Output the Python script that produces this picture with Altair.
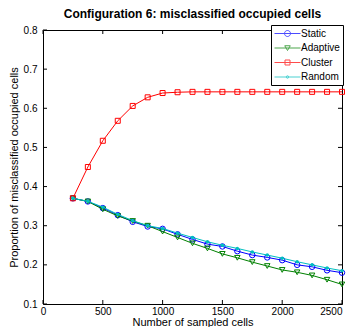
import altair as alt
import pandas as pd

x_vals = [250, 375, 500, 625, 750, 875, 1000, 1125, 1250, 1375, 1500,
          1625, 1750, 1875, 2000, 2125, 2250, 2375, 2500]
static = [0.370, 0.362, 0.345, 0.327, 0.310, 0.298, 0.292, 0.278, 0.265, 0.253,
          0.247, 0.235, 0.225, 0.219, 0.212, 0.200, 0.195, 0.186, 0.180]
adaptive = [0.370, 0.362, 0.342, 0.325, 0.312, 0.300, 0.285, 0.270, 0.255, 0.242,
            0.228, 0.218, 0.207, 0.197, 0.187, 0.181, 0.173, 0.162, 0.150]
cluster = [0.370, 0.450, 0.517, 0.568, 0.606, 0.628, 0.639, 0.641, 0.642, 0.642,
           0.642, 0.642, 0.642, 0.642, 0.642, 0.642, 0.642, 0.642, 0.642]
random_ = [0.370, 0.3625, 0.3475, 0.329, 0.313, 0.300, 0.293, 0.281, 0.270, 0.259,
           0.250, 0.242, 0.233, 0.225, 0.217, 0.208, 0.200, 0.192, 0.185]

series_names = ["Static", "Adaptive", "Cluster", "Random"]
series_values = [static, adaptive, cluster, random_]
colors = ["#0000ff", "#008000", "#ff0000", "#00bfbf"]
marker_shapes = ["circle", "triangle-down", "square", "circle"]
marker_sizes = [30, 30, 25, 12]
marker_filled = [False, False, False, True]
legend_paths = [
    "M-1,0L4.2,0M1.0,0A0.6,0.6,0,1,0,2.2,0A0.6,0.6,0,1,0,1.0,0",
    "M-1,0L4.2,0M1.05,-0.45L2.15,-0.45L1.6,0.5Z",
    "M-1,0L4.2,0M1.1,-0.5L2.1,-0.5L2.1,0.5L1.1,0.5Z",
    "M-1,0L4.2,0M1.35,0A0.25,0.25,0,1,0,1.85,0A0.25,0.25,0,1,0,1.35,0",
]

x_ticks = [0, 500, 1000, 1500, 2000, 2500]
y_ticks = [0.1, 0.2, 0.3, 0.4, 0.5, 0.6, 0.7, 0.8]

rows = []
for name, vals in zip(series_names, series_values):
    for xv, yv in zip(x_vals, vals):
        rows.append({"series": name, "x": xv, "y": yv})
df = pd.DataFrame(rows)

FONT = "Liberation Sans"

xscale = alt.Scale(domain=[0, 2500], nice=False, zero=False)
yscale = alt.Scale(domain=[0.1, 0.8], nice=False, zero=False)

xaxis = alt.Axis(values=x_ticks, grid=False, tickSize=0, domain=False, format="d",
                 labelPadding=2, title="Number of sampled cells", titlePadding=0,
                 labelAlign={"condition": {"test": "datum.value >= 2500", "value": "right"},
                             "value": "center"})
yaxis = alt.Axis(values=y_ticks, grid=False, tickSize=0, domain=False, format=".1f",
                 labelPadding=6, title="Proportion of misclassified occupied cells",
                 titlePadding=4)

layers = []
for i, name in enumerate(series_names):
    base = alt.Chart(df).transform_filter(alt.datum.series == name)
    enc_x = alt.X("x:Q", scale=xscale, axis=xaxis)
    enc_y = alt.Y("y:Q", scale=yscale, axis=yaxis)
    line = base.mark_line(strokeWidth=1, color=colors[i]).encode(x=enc_x, y=enc_y)
    pts = base.mark_point(shape=marker_shapes[i], size=marker_sizes[i],
                          filled=marker_filled[i], color=colors[i],
                          strokeWidth=1, opacity=1).encode(x=enc_x, y=enc_y)
    layers += [line, pts]

# inward tick marks on all four sides
xt = pd.DataFrame({"t": x_ticks})
yt = pd.DataFrame({"t": y_ticks})
tx = alt.X("t:Q", scale=xscale, axis=xaxis)
ty = alt.Y("t:Q", scale=yscale, axis=yaxis)
tick_bottom = alt.Chart(xt).mark_rule(color="black", strokeWidth=1).encode(
    x=tx, y=alt.value({"expr": "height"}), y2=alt.value({"expr": "height - 4"}))
tick_top = alt.Chart(xt).mark_rule(color="black", strokeWidth=1).encode(
    x=tx, y=alt.value(0), y2=alt.value(4))
tick_left = alt.Chart(yt).mark_rule(color="black", strokeWidth=1).encode(
    y=ty, x=alt.value(0), x2=alt.value(4))
tick_right = alt.Chart(yt).mark_rule(color="black", strokeWidth=1).encode(
    y=ty, x=alt.value({"expr": "width"}), x2=alt.value({"expr": "width - 4"}))

legend_kw = dict(title=None, orient="none", legendX=228, legendY=-5,
                 fillColor="white", strokeColor="black", padding=3,
                 labelOffset=16, rowPadding=3.5, symbolStrokeWidth=1,
                 symbolSize=100)
legend_layer = alt.Chart(df).transform_filter("false").mark_point(
    filled=False, strokeWidth=1, size=100).encode(
    x=alt.X("x:Q", scale=xscale, axis=xaxis),
    y=alt.Y("y:Q", scale=yscale, axis=yaxis),
    color=alt.Color("series:N",
                    scale=alt.Scale(domain=series_names, range=colors),
                    legend=alt.Legend(**legend_kw)),
    shape=alt.Shape("series:N",
                    scale=alt.Scale(domain=series_names, range=legend_paths),
                    legend=alt.Legend(**legend_kw)),
)

chart = alt.layer(
    *layers, tick_bottom, tick_top, tick_left, tick_right, legend_layer
).properties(
    width=339, height=319,
    autosize=alt.AutoSizeParams(type="fit", contains="padding"),
    padding=0,
    title=alt.TitleParams("Configuration 6: misclassified occupied cells",
                          fontSize=12, font=FONT, fontWeight="bold",
                          color="black", offset=4, anchor="middle"),
    background="white",
).configure_view(
    stroke="black", strokeWidth=1
).configure_axis(
    labelFontSize=10, labelFont=FONT, labelColor="black",
    titleFontSize=11, titleFont=FONT, titleFontWeight="normal", titleColor="black",
    labelFlush=False,
).configure_legend(
    labelFontSize=10, labelFont=FONT, labelColor="black",
)

chart.save("out.html", embed_options={"renderer": "svg", "actions": False})
